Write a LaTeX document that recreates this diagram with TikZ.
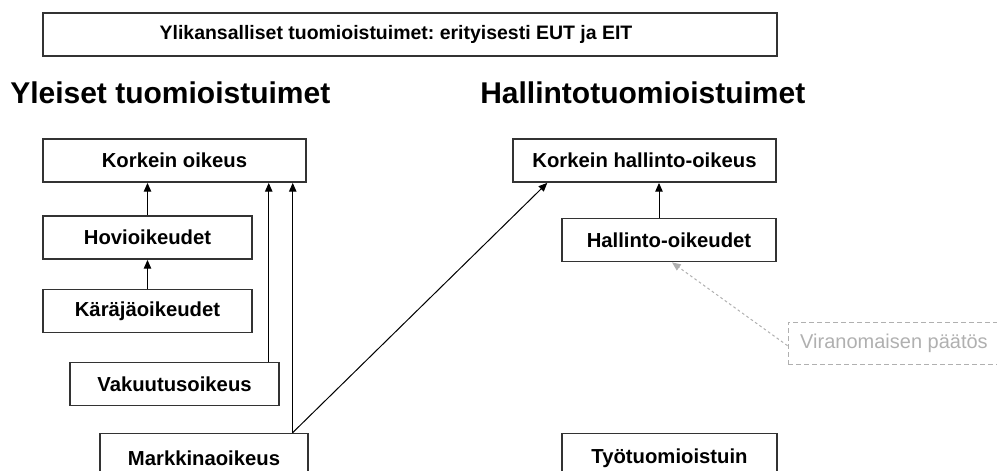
\documentclass[tikz,border=0pt]{standalone}
\usepackage{fontspec}
\setmainfont{Liberation Sans}
\usetikzlibrary{arrows.meta}
\frenchspacing
\definecolor{boxline}{HTML}{333333}
\definecolor{faint}{HTML}{B0B0B0}
\tikzset{
    court/.style={draw=boxline, line width=1.1pt, rectangle, minimum height=32.5pt,
        inner sep=0pt, font=\fontsize{15.2}{17}\selectfont\bfseries},
    arr/.style={-{Triangle[length=6.5pt,width=5.5pt]}, line width=0.75pt},
    heading/.style={anchor=base west, inner sep=0pt, font=\fontsize{22.5}{26}\selectfont\bfseries}
}
\begin{document}
\begin{tikzpicture}[x=0.75pt, y=-0.75pt]
    % Canvas
    \useasboundingbox (0,0) rectangle (997,471);

    % Top box
    \node[court, minimum width=550.5pt, minimum height=32.25pt,
        font=\fontsize{14.6}{17}\selectfont\bfseries] (ylik) at (410,34.5)
        {Ylikansalliset tuomioistuimet: erityisesti EUT ja EIT\hspace*{21pt}};

    % Headings
    \node[heading] (yleiset) at (10,103) {Yleiset tuomioistuimet};
    \node[heading] (hallinto) at (480,103) {Hallintotuomioistuimet};

    % General courts
    \node[court, minimum width=197.25pt] (ko) at (174.5,160.5) {Korkein oikeus};
    \node[court, minimum width=156.75pt] (hovi) at (147.5,237.5) {Hovioikeudet};
    \node[court, minimum width=156.75pt] (kara) at (147.5,311) {Käräjäoikeudet};
    \node[court, minimum width=156.75pt] (vak) at (174.5,384) {Vakuutusoikeus};
    \node[court, minimum width=156pt, minimum height=37pt] (mark) at (204,458) {Markkinaoikeus};

    % Administrative courts
    \node[court, minimum width=197.25pt] (kho) at (644.5,160.5) {Korkein hallinto-oikeus};
    \node[court, minimum width=160.5pt] (hao) at (669,240) {Hallinto-oikeudet};
    \node[court, minimum width=161.25pt, minimum height=37pt] (tyo) at (669.5,458) {Työtuomioistuin};

    % Authority decision
    \node[draw=faint, dashed, dash pattern=on 3.5pt off 2.5pt, line width=0.75pt,
        minimum width=159pt, minimum height=31.5pt, inner sep=0pt, text=faint,
        font=\fontsize{15}{18}\selectfont] (vir) at (894,343) {Viranomaisen päätös};

    % Appeals
    \draw[arr] (kara) -- (hovi);
    \draw[arr] (hovi) -- (hovi |- ko.south);
    \draw[arr] ([xshift=-8.25pt]vak.north east) -- ([xshift=-8.25pt]vak.north east |- ko.south);
    \draw[arr] ([xshift=-12pt]mark.north east) -- ([xshift=-12pt]mark.north east |- ko.south);
    \draw[arr] ([xshift=-12pt]mark.north east) -- ([xshift=26.25pt]kho.south west);
    \draw[arr] ([xshift=-7.5pt]hao.north) -- ([xshift=-7.5pt]hao.north |- kho.south);
    \draw[-{Triangle[length=6.5pt,width=5.5pt]}, faint, dashed, dash pattern=on 2pt off 2pt,
        line width=0.75pt] ([yshift=-2pt]vir.west) -- ([xshift=2.25pt]hao.south);

\end{tikzpicture}
\end{document}
